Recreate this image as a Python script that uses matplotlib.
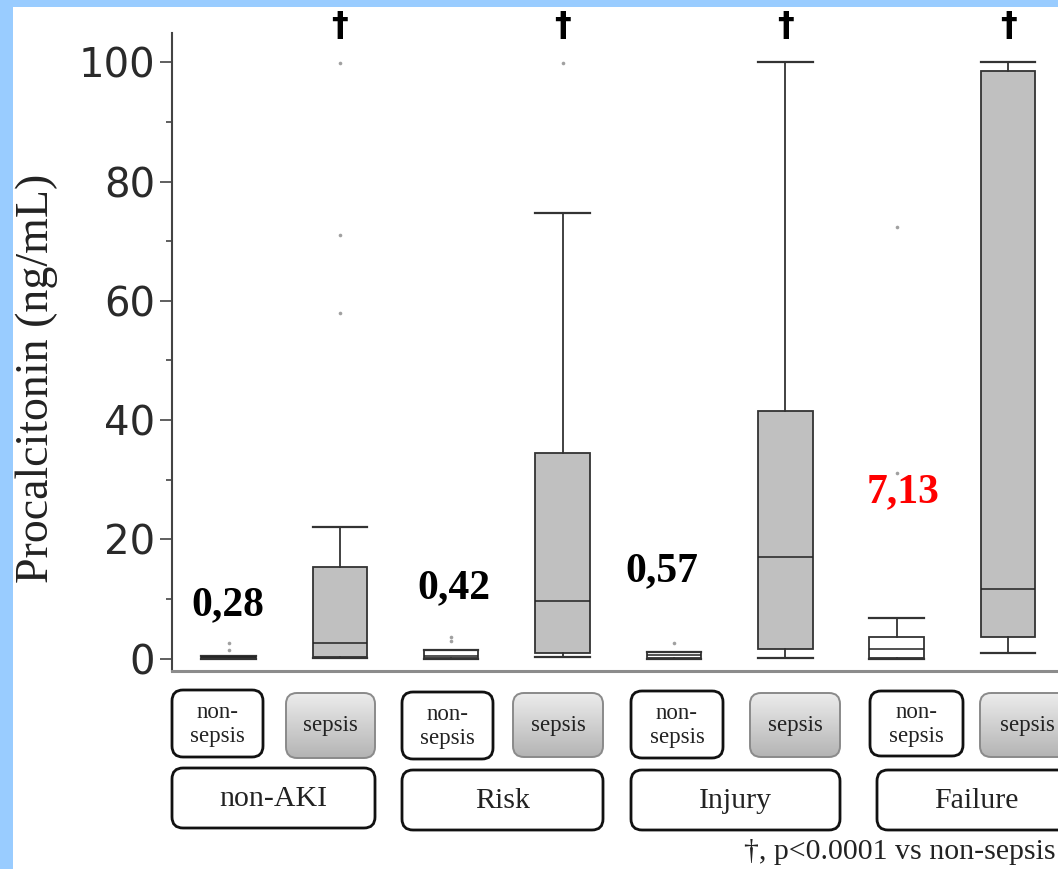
import matplotlib
matplotlib.use("Agg")
import matplotlib.pyplot as plt
import numpy as np
from matplotlib.patches import FancyBboxPatch, Rectangle

# ---------------- data ----------------
groups = ["non-AKI", "Risk", "Injury", "Failure"]
subgroups = ["non-\nsepsis", "sepsis"]
box_labels = ["non-AKI non-sepsis", "non-AKI sepsis", "Risk non-sepsis", "Risk sepsis",
              "Injury non-sepsis", "Injury sepsis", "Failure non-sepsis", "Failure sepsis"]
q1 = [0.05, 0.3, 0.1, 0.9, 0.05, 1.7, 0.2, 3.6]
med = [0.28, 2.6, 0.42, 9.7, 0.57, 17.1, 1.7, 11.7]
q3 = [0.45, 15.3, 1.5, 34.5, 1.07, 41.5, 3.6, 98.5]
whislo = [0.0, 0.1, 0.0, 0.3, 0.0, 0.2, 0.0, 0.9]
whishi = [0.45, 22.1, 1.5, 74.8, 1.07, 100.0, 6.9, 100.0]
fliers = [[1.5, 2.6], [58.0, 71.1, 99.8], [3.0, 3.7], [99.8],
          [2.6], [], [31.1, 72.4], []]
is_sepsis = [False, True, False, True, False, True, False, True]
median_labels = ["0,28", "0,42", "0,57", "7,13"]
median_label_colors = ["black", "black", "black", "red"]
median_label_x = [0.99, 3.02, 4.89, 7.06]
median_label_y = [9.0, 11.8, 14.6, 27.9]
yticks = [0, 20, 40, 60, 80, 100]
ylabel = "Procalcitonin (ng/mL)"
footnote = "\u2020, p<0.0001 vs non-sepsis"

# ---------------- figure ----------------
W, H = 1058, 869
fig = plt.figure(figsize=(W / 100, H / 100), dpi=100, facecolor="#99CCFF")

# overlay axes in pixel coordinates for background and label boxes
ov = fig.add_axes([0, 0, 1, 1], zorder=0)
ov.set_xlim(0, W)
ov.set_ylim(H, 0)
ov.axis("off")
ov.add_patch(Rectangle((13, 7), W - 13, H - 7, facecolor="white", edgecolor="none"))

ax = fig.add_axes([172 / W, 1 - 671 / H, (W - 172) / W, (671 - 33) / H], zorder=2)
ax.patch.set_alpha(0)

positions = np.arange(1, len(box_labels) + 1)
stats = []
for i in range(len(box_labels)):
    stats.append(dict(label=box_labels[i], q1=q1[i], med=med[i], q3=q3[i],
                      whislo=whislo[i], whishi=whishi[i], fliers=fliers[i]))

bp = ax.bxp(stats, positions=positions, widths=0.49, patch_artist=True,
            showfliers=True,
            boxprops=dict(edgecolor="#333333", linewidth=1.3),
            medianprops=dict(color="#222222", linewidth=1.1),
            whiskerprops=dict(color="#333333", linewidth=1.3),
            capprops=dict(color="#333333", linewidth=1.6),
            flierprops=dict(marker="o", markersize=2.6, markerfacecolor="#a0a0a0",
                            markeredgecolor="none"),
            capwidths=0.49)
for patch, s in zip(bp["boxes"], is_sepsis):
    patch.set_facecolor("#c0c0c0" if s else "white")

ax.set_xlim(0.4926, 8.449)
ax.set_ylim(-2.06, 104.9)
ax.set_xticks([])
ax.set_yticks(yticks)
ax.set_yticks([10, 30, 50, 70, 90], minor=True)
ax.tick_params(axis="y", which="major", length=9, width=1.2, color="#444444",
               labelsize=29, labelcolor="#2a2a2a", pad=3)
ax.tick_params(axis="y", which="minor", length=4.5, width=1.2, color="#444444")
for lab in ax.get_yticklabels():
    lab.set_fontfamily("DejaVu Sans")
ax.spines["top"].set_visible(False)
ax.spines["right"].set_visible(False)
ax.spines["left"].set_color("#444444")
ax.spines["left"].set_linewidth(1.5)
ax.spines["bottom"].set_color("#8c8c8c")
ax.spines["bottom"].set_linewidth(2.2)

# y label
fig.text(37 / W, 1 - 378 / H, ylabel, rotation=90, ha="center", va="center",
         fontsize=33, family="Liberation Serif", color="#222222")

# daggers above sepsis boxes
for p, s in zip(positions, is_sepsis):
    if s:
        ax.annotate("\u2020", xy=(p, 1 + 7 / 638), xycoords=("data", "axes fraction"),
                    ha="center", va="center", fontsize=24, fontweight="bold",
                    family="DejaVu Sans", color="black", annotation_clip=False)

# median value labels
for t, c, x, y in zip(median_labels, median_label_colors, median_label_x, median_label_y):
    ax.text(x, y, t, ha="center", va="center", fontsize=30, fontweight="bold",
            family="Liberation Serif", color=c)

# ---------------- label boxes (pixel layout) ----------------
nonsep_boxes = [(172, 690, 263, 757), (402, 692, 493, 759), (631, 691, 723, 758), (870, 691, 963, 756)]
sep_boxes = [(286, 693, 375, 758), (513, 693, 603, 757), (750, 693, 840, 757), (980, 693, 1075, 757)]
group_boxes = [(172, 768, 375, 828), (402, 770, 603, 830), (631, 770, 840, 830), (877, 770, 1075, 830)]

grad = np.linspace(0, 1, 100).reshape(-1, 1)
for (x0, y0, x1, y1) in nonsep_boxes:
    p = FancyBboxPatch((x0, y0), x1 - x0, y1 - y0,
                       boxstyle="round,pad=0,rounding_size=11",
                       facecolor="white", edgecolor="#111111", linewidth=2.0)
    ov.add_patch(p)
    ov.text((x0 + x1) / 2, (y0 + y1) / 2 + 1, subgroups[0], ha="center", va="center",
            fontsize=16.5, family="Liberation Serif", color="#222222", linespacing=1.15)

for (x0, y0, x1, y1) in sep_boxes:
    p = FancyBboxPatch((x0, y0), x1 - x0, y1 - y0,
                       boxstyle="round,pad=0,rounding_size=11",
                       facecolor="none", edgecolor="#8a8a8a", linewidth=1.4, zorder=3)
    ov.add_patch(p)
    im = ov.imshow(grad, cmap=matplotlib.colors.LinearSegmentedColormap.from_list(
        "g", ["#ececec", "#b4b4b4"]), extent=(x0, x1, y1, y0), aspect="auto", zorder=2)
    im.set_clip_path(p)
    ov.text((x0 + x1) / 2, (y0 + y1) / 2, subgroups[1], ha="center", va="center",
            fontsize=16.5, family="Liberation Serif", color="#222222", zorder=4)

for g, (x0, y0, x1, y1) in zip(groups, group_boxes):
    p = FancyBboxPatch((x0, y0), x1 - x0, y1 - y0,
                       boxstyle="round,pad=0,rounding_size=11",
                       facecolor="white", edgecolor="#111111", linewidth=2.0)
    ov.add_patch(p)
    ov.text((x0 + x1) / 2, (y0 + y1) / 2 + 1, g, ha="center", va="center",
            fontsize=21.5, family="Liberation Serif", color="#222222")

ov.set_xlim(0, W)
ov.set_ylim(H, 0)

ov.text(1056, 852, footnote, ha="right", va="center", fontsize=21.5,
        family=["Liberation Serif", "DejaVu Sans"], color="#222222")

fig.savefig("out.png", dpi=100, facecolor=fig.get_facecolor())
